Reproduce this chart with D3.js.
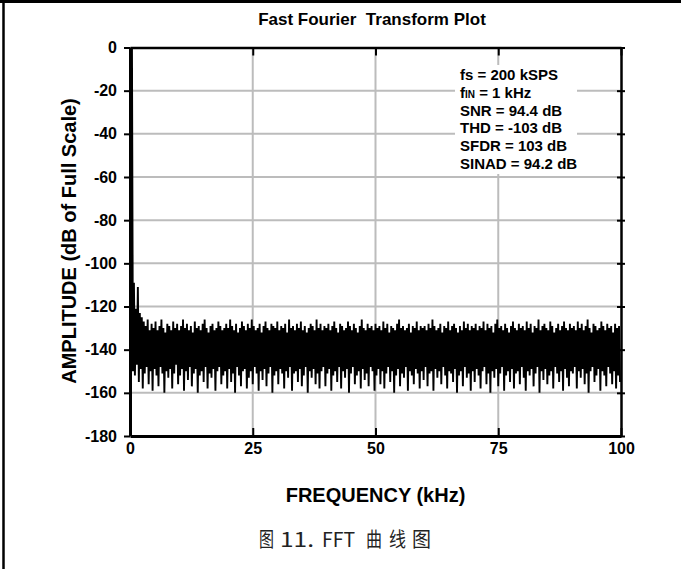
<!DOCTYPE html>
<html>
<head>
<meta charset="utf-8">
<script src="https://cdn.jsdelivr.net/npm/d3@7/dist/d3.min.js"></script>
<style>
  body { margin: 0; background: #fff; }
  svg { display: block; font-family: "Liberation Sans", Arial, sans-serif; }
</style>
</head>
<body>
<script>
// Fast Fourier Transform Plot - 200 kSPS, 1 kHz input

var title = "Fast Fourier  Transform Plot";
var xLabel = "FREQUENCY (kHz)";
var yLabel = "AMPLITUDE (dB of Full Scale)";
var caption = ["图", "11.", "FFT", "曲", "线", "图"];

var xTicks = [0, 25, 50, 75, 100];
var yTicks = [0, -20, -40, -60, -80, -100, -120, -140, -160, -180];

var specLines = ["fs = 200 kSPS", "fIN = 1 kHz", "SNR = 94.4 dB", "THD = -103 dB", "SFDR = 103 dB", "SINAD = 94.2 dB"];

// FFT bin spacing used for the read-off envelope (kHz)
var binKHz = 0.4;

// local peaks of the spectrum, one per bin (dB)
var peakDb = [
  -112, 0, -109, -121, -111, -123, -125, -127, -129, -126, -131, -128, -130, -127, -131, -129, -126, -130, -132, -128, -129, -131, -127, -130, -128,
  -131, -129, -126, -130, -128, -131, -129, -132, -127, -130, -129, -131, -128, -126, -130, -132, -129, -128, -131, -130, -127, -129, -131, -130, -128,
  -130, -126, -129, -131, -128, -132, -130, -127, -129, -131, -128, -130, -126, -129, -131, -130, -128, -132, -129, -127, -130, -131, -128, -129, -130,
  -127, -131, -129, -130, -128, -132, -126, -130, -129, -131, -128, -130, -127, -131, -129, -132, -130, -128, -129, -131, -126, -130, -128, -131, -129,
  -130, -128, -131, -129, -127, -130, -132, -128, -129, -131, -130, -127, -129, -131, -128, -130, -132, -129, -126, -130, -131, -128, -130, -129, -131,
  -128, -130, -129, -131, -127, -130, -128, -132, -129, -130, -131, -128, -126, -130, -129, -131, -130, -128, -132, -129, -130, -127, -131, -129, -130,
  -129, -131, -128, -130, -126, -129, -131, -130, -128, -132, -129, -130, -127, -131, -129, -128, -130, -132, -129, -131, -127, -130, -128, -131, -129,
  -130, -128, -131, -129, -130, -127, -131, -128, -130, -129, -132, -128, -126, -130, -129, -131, -128, -130, -132, -129, -127, -130, -131, -128, -130,
  -129, -131, -127, -130, -128, -132, -129, -130, -126, -131, -129, -128, -130, -131, -127, -129, -132, -130, -128, -131, -129, -127, -130, -131, -128,
  -130, -129, -131, -127, -130, -128, -131, -129, -126, -130, -132, -128, -129, -131, -130, -127, -129, -131, -128, -130, -129, -132, -128, -130, -129
];

// local troughs between the peaks (dB)
var troughDb = [
  -140, -150, -152, -147, -155, -149, -158, -151, -148, -156, -150, -159, -149, -152, -157, -148, -151, -160, -150, -153, -149, -158, -151, -147, -156,
  -152, -149, -159, -150, -154, -148, -157, -151, -149, -160, -152, -150, -155, -148, -158, -151, -153, -149, -159, -150, -148, -156, -152, -150, -158,
  -149, -155, -151, -160, -148, -152, -157, -150, -149, -158, -153, -150, -156, -148, -151, -159, -150, -154, -149, -157, -151, -148, -160, -152, -150,
  -156, -149, -151, -158, -150, -153, -148, -159, -151, -150, -155, -149, -157, -152, -148, -160, -150, -153, -149, -156, -151, -158, -150, -148, -157,
  -151, -149, -159, -152, -150, -155, -148, -158, -150, -153, -149, -160, -151, -148, -156, -152, -150, -158, -149, -154, -151, -157, -148, -150, -159,
  -152, -149, -156, -150, -158, -151, -148, -155, -150, -160, -152, -149, -157, -151, -153, -148, -159, -150, -152, -156, -149, -151, -158, -150, -154,
  -148, -157, -151, -150, -159, -149, -153, -150, -156, -148, -152, -158, -150, -151, -155, -149, -160, -152, -150, -157, -148, -153, -151, -159, -150,
  -155, -149, -152, -158, -150, -148, -156, -151, -160, -150, -153, -149, -157, -151, -148, -159, -152, -150, -155, -149, -158, -151, -150, -156, -148,
  -153, -159, -150, -152, -149, -157, -151, -148, -160, -150, -154, -149, -156, -152, -150, -158, -148, -151, -155, -150, -159, -149, -153, -157, -150,
  -151, -148, -158, -150, -153, -149, -156, -151, -160, -150, -148, -155, -152, -149, -159, -150, -152, -157, -148, -151, -156, -150, -158, -152, -155
];

var W = 681, H = 569;

var svg = d3.select("body").append("svg")
    .attr("width", W)
    .attr("height", H);

var x = d3.scaleLinear().domain([0, 100]).range([130, 621]);
var y = d3.scaleLinear().domain([-180, 0]).range([436, 47.5]);

// page border (top and left only)
svg.append("line").attr("x1", 0).attr("x2", W).attr("y1", 1.5).attr("y2", 1.5)
    .attr("stroke", "#000").attr("stroke-width", 3);
svg.append("line").attr("x1", 3.5).attr("x2", 3.5).attr("y1", 0).attr("y2", H)
    .attr("stroke", "#000").attr("stroke-width", 2.5);

// grid
var grid = svg.append("g").attr("stroke", "#bcbcbc").attr("stroke-width", 2);
grid.selectAll(".gy").data(yTicks.slice(1, -1)).enter().append("line")
    .attr("x1", x(0)).attr("x2", x(100))
    .attr("y1", function(d) { return y(d); })
    .attr("y2", function(d) { return y(d); });
grid.selectAll(".gx").data(xTicks.slice(1, -1)).enter().append("line")
    .attr("y1", y(0)).attr("y2", y(-180))
    .attr("x1", function(d) { return x(d); })
    .attr("x2", function(d) { return x(d); });

// white box behind the spec text
svg.append("rect").attr("x", 455).attr("y", 65).attr("width", 122).attr("height", 109)
    .attr("fill", "#fff");

// spectrum trace: peak, trough, peak, trough...
var trace = [];
peakDb.forEach(function(p, i) {
    trace.push([i * binKHz, p]);
    trace.push([i * binKHz + binKHz / 2, troughDb[i]]);
});

svg.append("clipPath").attr("id", "plotclip").append("rect")
    .attr("x", x(0)).attr("y", y(0) - 1).attr("width", x(100) - x(0)).attr("height", y(-180) - y(0) + 1);

svg.append("path")
    .datum(trace)
    .attr("clip-path", "url(#plotclip)")
    .attr("fill", "none")
    .attr("stroke", "#000")
    .attr("stroke-width", 1.9)
    .attr("stroke-linejoin", "bevel")
    .attr("d", d3.line()
        .x(function(d) { return x(d[0]); })
        .y(function(d) { return y(d[1]); }));

// axes / frame
function styleAxis(g, lw) {
    g.select(".domain").attr("stroke", "#000").attr("stroke-width", lw);
    g.selectAll(".tick line").attr("stroke", "#000").attr("stroke-width", 2);
    g.selectAll("text").attr("fill", "#000").attr("font-size", "16px").attr("font-weight", "bold")
        .attr("font-family", "'Liberation Sans', Arial, sans-serif");
}
var plainNum = function(d) { return String(d); };

var axL = svg.append("g").attr("transform", "translate(" + x(0) + ",0)")
    .call(d3.axisLeft(y).tickValues(yTicks).tickSize(6).tickSizeOuter(0).tickPadding(7).tickFormat(plainNum));
styleAxis(axL, 3);

var axR = svg.append("g").attr("transform", "translate(" + x(100) + ",0)")
    .call(d3.axisRight(y).tickValues(yTicks).tickSize(4).tickSizeOuter(0).tickFormat(""));
styleAxis(axR, 2.5);
axR.selectAll(".tick line").attr("x1", -4);

var axT = svg.append("g").attr("transform", "translate(0," + y(0) + ")")
    .call(d3.axisTop(x).tickValues(xTicks).tickSize(-8).tickSizeOuter(0).tickFormat(""));
styleAxis(axT, 2.5);

var axB = svg.append("g").attr("transform", "translate(0," + y(-180) + ")")
    .call(d3.axisBottom(x).tickValues(xTicks).tickSize(-8).tickSizeOuter(0).tickPadding(7).tickFormat(plainNum));
styleAxis(axB, 3);

// titles
svg.append("text")
    .attr("x", 372).attr("y", 25)
    .attr("text-anchor", "middle")
    .attr("font-size", "17px").attr("font-weight", "bold")
    .style("white-space", "pre")
    .text(title);

svg.append("text")
    .attr("transform", "translate(76,241) rotate(-90)")
    .attr("text-anchor", "middle")
    .attr("font-size", "20px").attr("font-weight", "bold")
    .text(yLabel);

svg.append("text")
    .attr("x", 375.5).attr("y", 502)
    .attr("text-anchor", "middle")
    .attr("font-size", "20px").attr("font-weight", "bold")
    .text(xLabel);

// spec text block
var spec = svg.append("g").attr("font-size", "15px").attr("font-weight", "bold");
specLines.forEach(function(s, i) {
    var t = spec.append("text").attr("x", 460).attr("y", 80 + i * 17.8);
    if (s.indexOf("fIN") === 0) {
        t.append("tspan").text("f");
        t.append("tspan").attr("font-size", "10px").text("IN");
        t.append("tspan").text(s.slice(3));
    } else {
        t.text(s);
    }
});

// figure caption (narrow, tall glyphs)
var capX = [259, 280, 322, 366, 389, 412];
var capW = [15, 34, 33, 16, 17, 19];
var cap = svg.append("g")
    .attr("font-family", "'Noto Sans CJK SC', sans-serif")
    .attr("font-size", "20px")
    .attr("fill", "#222");
caption.forEach(function(c, i) {
    cap.append("text")
        .attr("x", capX[i]).attr("y", 547)
        .attr("textLength", capW[i])
        .attr("lengthAdjust", "spacingAndGlyphs")
        .text(c);
});
</script>
</body>
</html>
